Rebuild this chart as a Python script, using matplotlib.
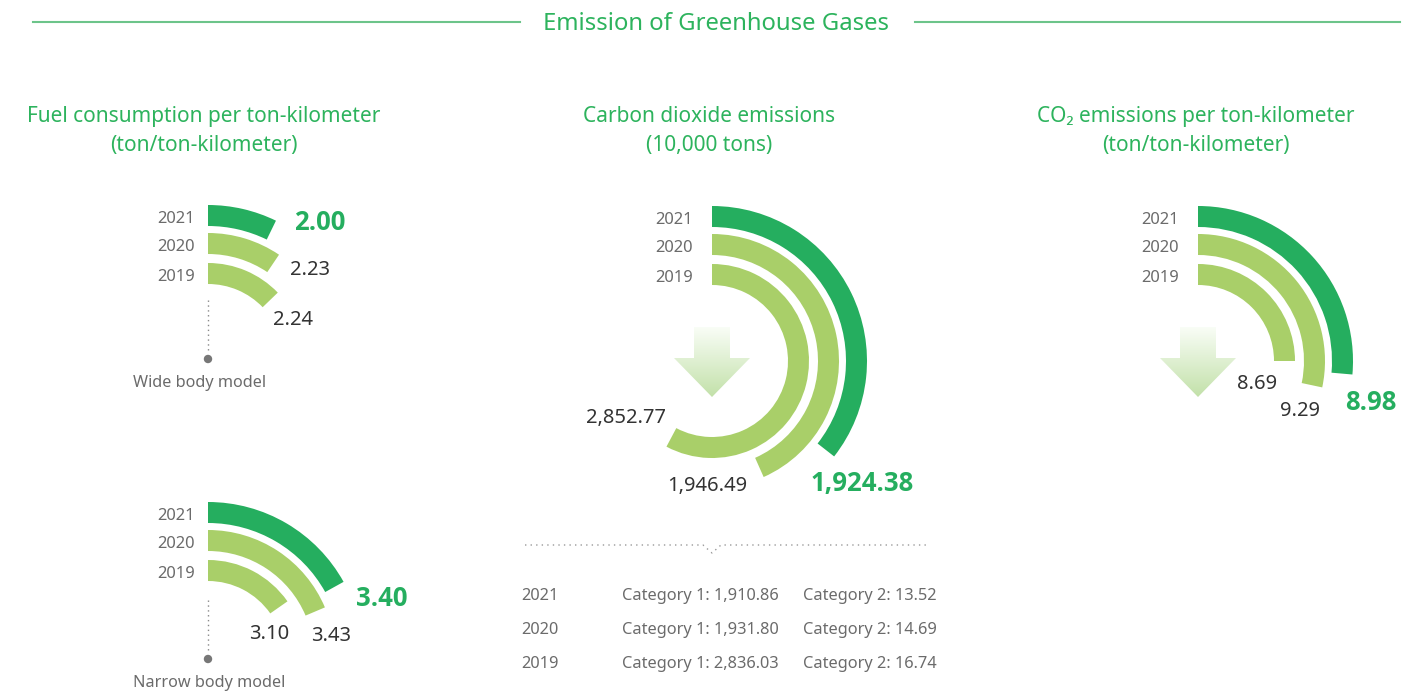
import numpy as np
import matplotlib
matplotlib.use("Agg")
import matplotlib.pyplot as plt
from matplotlib.patches import Wedge, Polygon, Circle

plt.rcParams['font.family'] = ['Noto Sans', 'DejaVu Sans']

# data
years = ["2021", "2020", "2019"]
wide_values = [2.00, 2.23, 2.24]
wide_sweep = [26, 34, 46]
narrow_values = [3.40, 3.43, 3.10]
narrow_sweep = [61, 67, 55]
co2_total = [1924.38, 1946.49, 2852.77]
co2_total_sweep = [128, 156, 208]
co2_per_tkm = [8.98, 9.29, 8.69]
co2_per_sweep = [95, 102, 90]
cat1 = [1910.86, 1931.80, 2836.03]
cat2 = [13.52, 14.69, 16.74]

DARK = "#25ae5f"
LIGHT = "#a9cf69"
TITLE = "#2db35d"
GREY = "#6b6b6b"
NUM = "#333333"
BOLD_FONT = ['Open Sans', 'Roboto', 'DejaVu Sans']

fig = plt.figure(figsize=(14.22, 6.91), dpi=100)
ax = fig.add_axes([0, 0, 1, 1])

R_OUT = [155, 127, 97]
BAND = 21


def rings(cx, cy, sweeps, values, fmt, label_pos, year_x):
    for i, (s, v) in enumerate(zip(sweeps, values)):
        col = DARK if i == 0 else LIGHT
        ax.add_patch(Wedge((cx, cy), R_OUT[i], -90, s - 90, width=BAND,
                           facecolor=col, edgecolor="none"))
        ax.text(year_x, cy - R_OUT[i] + BAND / 2 + 3, years[i], ha="right",
                va="center", fontsize=11.9, color=GREY)
        lx, ly = label_pos[i]
        if i == 0:
            ax.text(lx, ly, fmt.format(v), ha="center", va="center",
                    fontsize=18.5, fontweight="bold", color=DARK,
                    family=BOLD_FONT)
        else:
            ax.text(lx, ly, fmt.format(v), ha="center", va="center",
                    fontsize=14.5, color=NUM)


def grad_arrow(cx):
    pts = [(cx - 18, 327), (cx + 18, 327), (cx + 18, 358), (cx + 38, 358),
           (cx, 397), (cx - 38, 358), (cx - 18, 358)]
    poly = Polygon(pts, closed=True, facecolor="none", edgecolor="none")
    ax.add_patch(poly)
    t = np.linspace(0, 1, 120)[:, None]
    top = np.array([0.98, 0.995, 0.97])
    bot = np.array([0.76, 0.88, 0.66])
    img = top + (bot - top) * t[..., None]
    im = ax.imshow(img, extent=(cx - 40, cx + 40, 398, 326), origin="upper",
                   interpolation="bilinear", zorder=1)
    im.set_clip_path(poly)


# main title
ax.text(716, 24, "Emission of Greenhouse Gases", ha="center", va="center",
        fontsize=17.2, color=TITLE)
ax.plot([33, 520], [22, 22], color="#6cc48a", lw=1.5)
ax.plot([915, 1400], [22, 22], color="#6cc48a", lw=1.5)

# panel titles
for x, l1, l2 in [(204, "Fuel consumption per ton-kilometer", "(ton/ton-kilometer)"),
                  (709, "Carbon dioxide emissions", "(10,000 tons)"),
                  (1196, "CO\u2082 emissions per ton-kilometer", "(ton/ton-kilometer)")]:
    ax.text(x, 116, l1, ha="center", va="center", fontsize=15, color=TITLE)
    ax.text(x, 145, l2, ha="center", va="center", fontsize=15, color=TITLE)

# wide body
rings(208, 360, wide_sweep, wide_values, "{:.2f}",
      [(320, 222), (310, 270), (293, 320)], 195)
ax.plot([208, 208], [300, 352], color="#888888", lw=1, ls=(0, (1, 2.5)))
ax.add_patch(Circle((208, 359), 3.5, color="#777777"))
ax.text(200, 383, "Wide body model", ha="center", va="center",
        fontsize=11.7, color=GREY)

# narrow body
rings(208, 657, narrow_sweep, narrow_values, "{:.2f}",
      [(382, 599), (331, 636), (269, 634)], 195)
ax.plot([208, 208], [600, 652], color="#888888", lw=1, ls=(0, (1, 2.5)))
ax.add_patch(Circle((208, 659), 3.5, color="#777777"))
ax.text(209, 683, "Narrow body model", ha="center", va="center",
        fontsize=11.7, color=GREY)

# carbon dioxide
grad_arrow(712)
rings(712, 361, co2_total_sweep, co2_total, "{:,.2f}",
      [(862, 483), (707, 486), (626, 418)], 693)

# separator with notch
ax.plot([525, 703, 712, 721, 927], [545, 545, 553, 545, 545],
        color="#999999", lw=1, ls=(0, (1, 3)))
for i, (c1, c2) in enumerate(zip(cat1, cat2)):
    y = 596 + i * 34
    ax.text(521, y, years[i], ha="left", va="center", fontsize=11.8, color=GREY)
    ax.text(622, y, "Category 1: {:,.2f}".format(c1), ha="left", va="center",
            fontsize=11.8, color=GREY)
    ax.text(803, y, "Category 2: {:,.2f}".format(c2), ha="left", va="center",
            fontsize=11.8, color=GREY)

# co2 per ton-km
grad_arrow(1198)
rings(1198, 361, co2_per_sweep, co2_per_tkm, "{:.2f}",
      [(1371, 402), (1300, 411), (1257, 384)], 1179)

ax.set_xlim(0, 1422)
ax.set_ylim(691, 0)
ax.set_aspect("auto")
ax.axis("off")
fig.savefig("out.png", dpi=100, facecolor="white")
